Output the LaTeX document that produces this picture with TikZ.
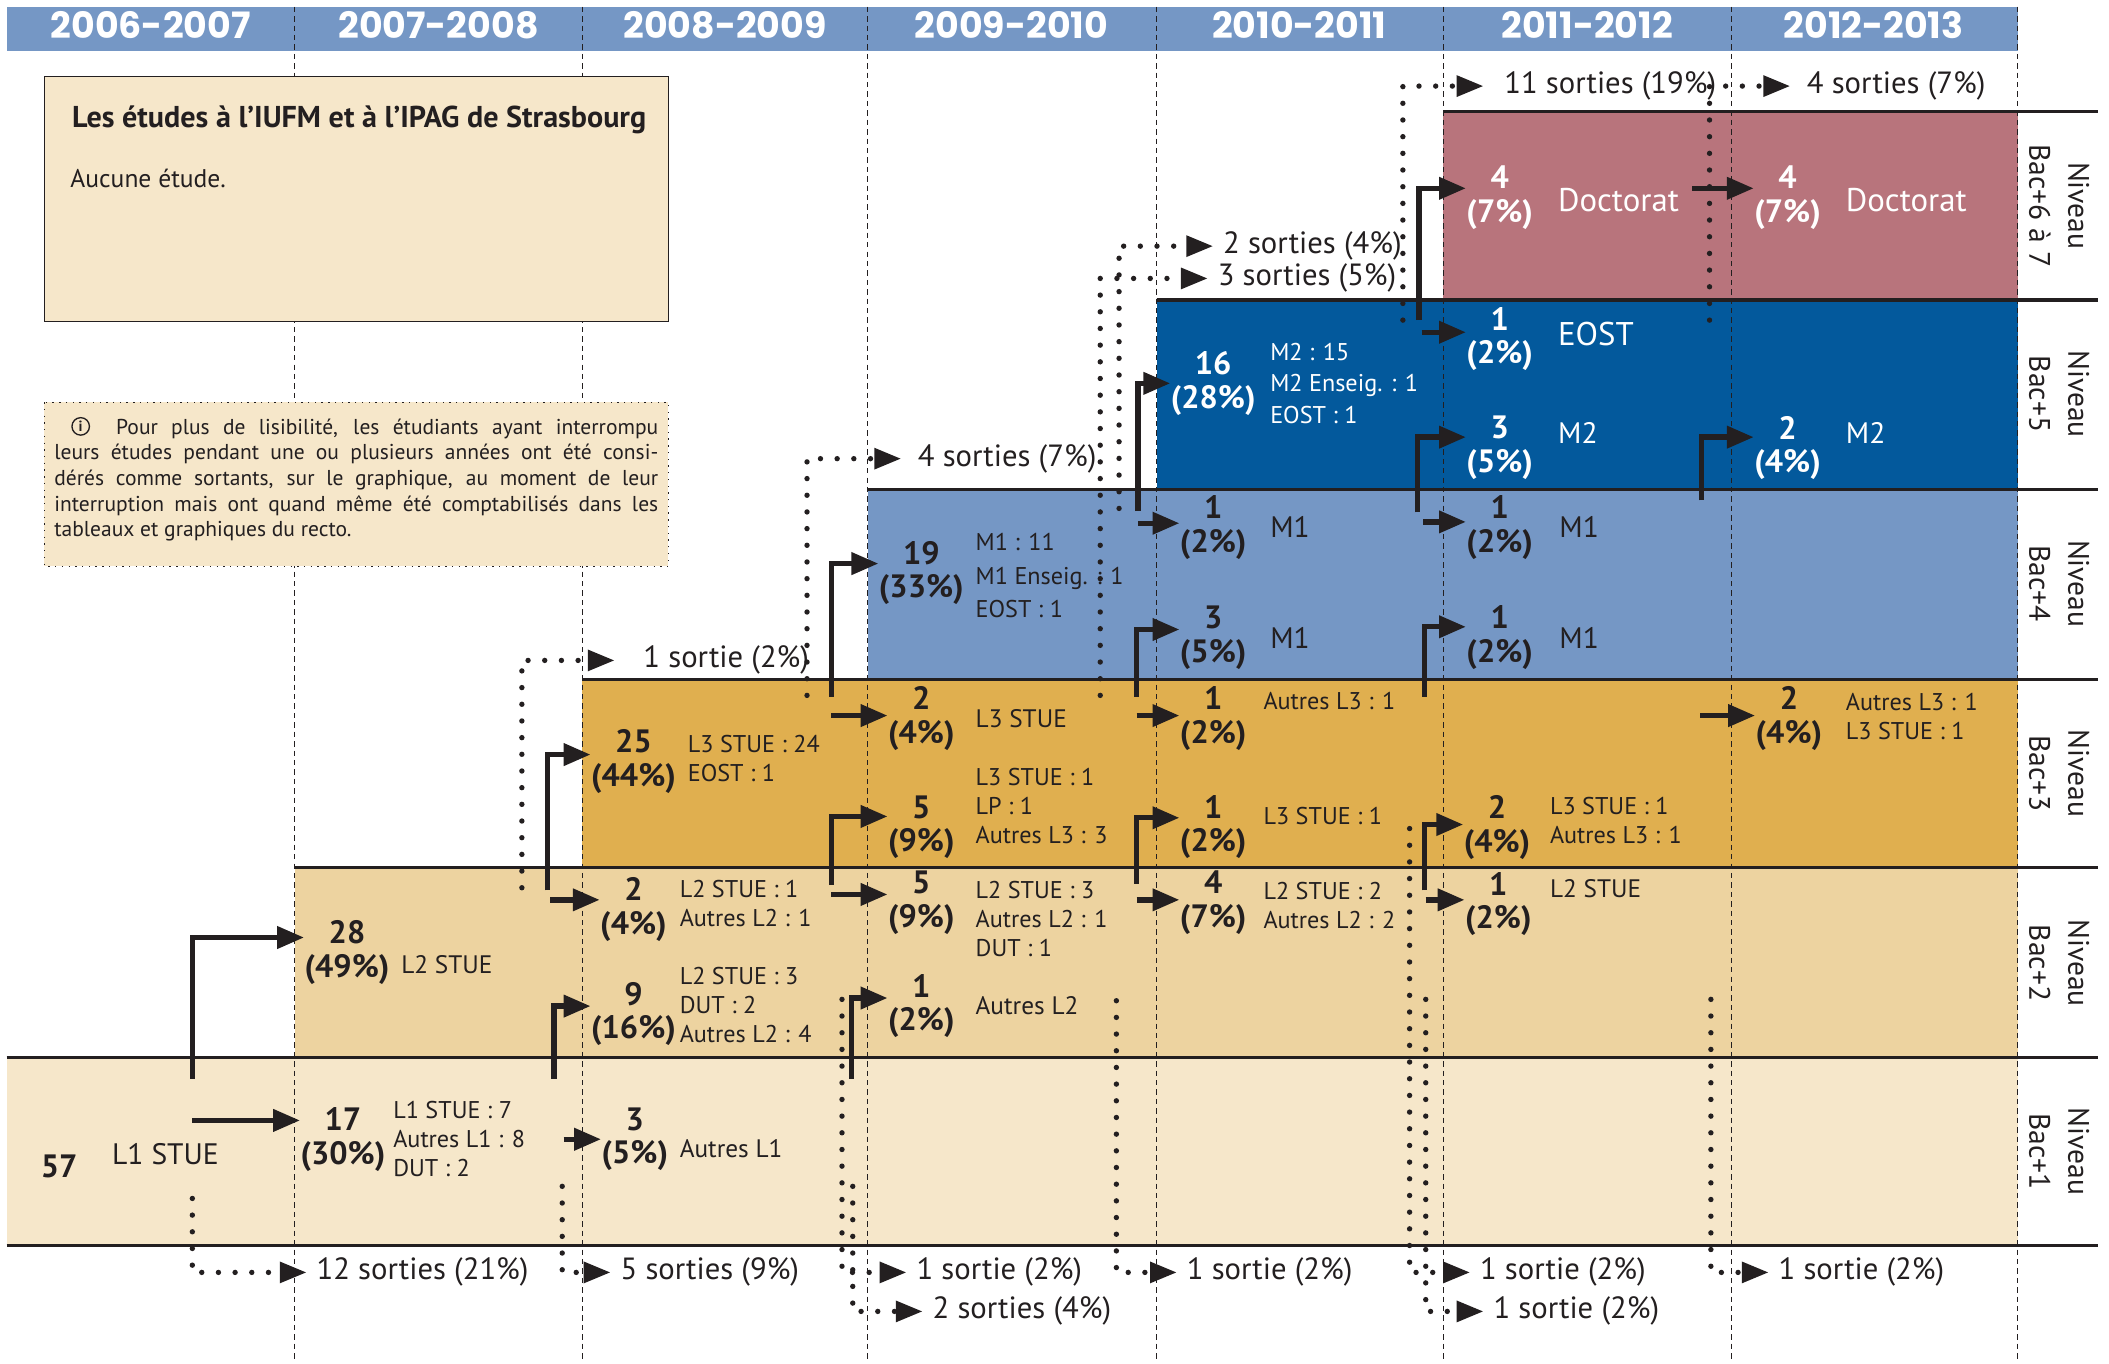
\documentclass[tikz,border=0pt]{standalone}
\usepackage{fontspec}
\setmainfont{PT Sans}
\newfontfamily\anneefont{Poppins}
\usetikzlibrary{arrows.meta}
\definecolor{encre}{RGB}{35,31,32}
\definecolor{bandeau}{RGB}{117,151,197}
\definecolor{bacun}{RGB}{246,231,202}
\definecolor{bacdeux}{RGB}{237,211,160}
\definecolor{bactrois}{RGB}{224,175,79}
\definecolor{bacquatre}{RGB}{117,151,197}
\definecolor{baccinq}{RGB}{3,89,156}
\definecolor{bacsix}{RGB}{184,116,124}
\tikzstyle{palier} = [draw=encre, line width=1.2pt]
\tikzstyle{annuel} = [draw=encre, line width=0.4pt, dash pattern=on 2pt off 1.5pt]
\tikzstyle{flux} = [draw=encre, line width=2pt, -{Triangle[length=10pt,width=8pt]}]
\tikzstyle{sortant} = [draw=encre, line width=2pt, line cap=round, dash pattern=on 0pt off 6.2pt, -{Triangle[length=10pt,width=7.5pt]}]
\tikzstyle{effectif} = [font=\bfseries\fontsize{12}{12.5}\selectfont, align=center, inner sep=0pt, text=encre]
\tikzstyle{filiere} = [font=\fontsize{9.4}{12}\selectfont, anchor=west, inner sep=0pt, text=encre]
\tikzstyle{diplome} = [font=\fontsize{11}{12}\selectfont, anchor=west, inner sep=0pt, text=encre]
\tikzstyle{detail} = [font=\fontsize{9}{10.75}\selectfont, align=left, anchor=west, inner sep=0pt, text=encre]
\tikzstyle{sortie} = [font=\fontsize{11.4}{12}\selectfont, anchor=west, inner xsep=3.5pt, inner ysep=0pt, text=encre]
\tikzstyle{annee} = [font=\anneefont\bfseries\fontsize{13.5}{14}\selectfont, text=white]
\tikzstyle{niveau} = [font=\fontsize{11}{14.5}\selectfont, align=center, rotate=-90, text=encre]

\begin{document}
\begin{tikzpicture}[x=0.5pt,y=-0.5pt]

	\useasboundingbox (0,0) rectangle (1568,1014);

	\fill[bacun] (5,786) rectangle (1500,926);
	\fill[bacdeux] (219,645) rectangle (1500,786);
	\fill[bactrois] (433,505) rectangle (1500,645);
	\fill[bacquatre] (645,364) rectangle (1500,505);
	\fill[baccinq] (860,223) rectangle (1500,364);
	\fill[bacsix] (1073,83) rectangle (1500,223);
	\fill[bandeau] (5,5) rectangle (1500,38);

	\draw[annuel] (219,5) -- (219,1013);
	\draw[annuel] (433,5) -- (433,1013);
	\draw[annuel] (645,5) -- (645,1013);
	\draw[annuel] (860,5) -- (860,1013);
	\draw[annuel] (1073,5) -- (1073,1013);
	\draw[annuel] (1287,5) -- (1287,1013);
	\draw[annuel] (1500,5) -- (1500,1013);

	\draw[palier] (1073,83) -- (1560,83);
	\draw[palier] (860,223) -- (1560,223);
	\draw[palier] (645,364) -- (1560,364);
	\draw[palier] (433,505) -- (1560,505);
	\draw[palier] (219,645) -- (1560,645);
	\draw[palier] (5,786) -- (1560,786);
	\draw[palier] (5,926) -- (1560,926);

	\node[annee] (an1) at (112,18.5) {2006-2007};
	\node[annee] (an2) at (326,18.5) {2007-2008};
	\node[annee] (an3) at (539,18.5) {2008-2009};
	\node[annee] (an4) at (752,18.5) {2009-2010};
	\node[annee] (an5) at (966,18.5) {2010-2011};
	\node[annee] (an6) at (1180,18.5) {2011-2012};
	\node[annee] (an7) at (1393,18.5) {2012-2013};

	\node[niveau] (niv6) at (1531,153) {Niveau\\Bac+6 à 7};
	\node[niveau] (niv5) at (1531,293) {Niveau\\Bac+5};
	\node[niveau] (niv4) at (1531,434) {Niveau\\Bac+4};
	\node[niveau] (niv3) at (1531,575) {Niveau\\Bac+3};
	\node[niveau] (niv2) at (1531,716) {Niveau\\Bac+2};
	\node[niveau] (niv1) at (1531,856) {Niveau\\Bac+1};

	\draw[encre, line width=0.6pt, fill=bacun] (33,57) rectangle (497,239);
	\node[font=\bfseries\fontsize{11.2}{13}\selectfont, text=encre] (titre) at (267,89) {Les études à l’IUFM et à l’IPAG de Strasbourg};
	\node[filiere, font=\fontsize{9.5}{12}\selectfont] (aucune) at (52,133) {Aucune étude.};
	\draw[encre, line width=0.5pt, dotted, fill=bacun] (33,299) rectangle (497,421);
	\node[anchor=north west, text width=224.5pt, align=justify, inner sep=0pt, text=encre, font=\fontsize{8}{9.5}\selectfont] (lecture) at (40,311)
		{\hspace*{23pt}Pour plus de lisibilité, les étudiants ayant interrompu\linebreak leurs études pendant une ou plusieurs années ont été consi-\linebreak dérés comme sortants, sur le graphique, au moment de leur\linebreak interruption mais ont quand même été comptabilisés dans les\linebreak tableaux et graphiques du recto.};
	\node[circle, draw=encre, line width=0.5pt, minimum size=6.5pt, inner sep=0pt, text=encre, font=\bfseries\fontsize{5.5}{6}\selectfont] (info) at (60,317) {i};

	\node[effectif] (n57) at (44,867) {57};
	\node[diplome] (f57) at (83,858) {L1 STUE};

	\node[effectif] (n28) at (258,708) {28\\(49\%)};
	\node[filiere] (f28) at (298,717) {L2 STUE};
	\node[effectif] (n17) at (255,847) {17\\(30\%)};
	\node[detail] (f17) at (292,847) {L1 STUE : 7\\Autres L1 : 8\\DUT : 2};

	\node[effectif] (n25) at (471,566) {25\\(44\%)};
	\node[detail] (f25) at (511,564) {L3 STUE : 24\\EOST : 1};
	\node[effectif] (n2c3) at (471,676) {2\\(4\%)};
	\node[detail] (f2c3) at (505,672) {L2 STUE : 1\\Autres L2 : 1};
	\node[effectif] (n9) at (471,754) {9\\(16\%)};
	\node[detail] (f9) at (505,747) {L2 STUE : 3\\DUT : 2\\Autres L2 : 4};
	\node[effectif] (n3c3) at (472,847) {3\\(5\%)};
	\node[filiere] (f3c3) at (505,854) {Autres L1};

	\node[effectif] (n19) at (685,426) {19\\(33\%)};
	\node[detail, font=\fontsize{9}{12.5}\selectfont] (f19) at (725,428) {M1 : 11\\M1 Enseig. : 1\\EOST : 1};
	\node[effectif] (n2c4) at (685,534) {2\\(4\%)};
	\node[filiere] (f2c4) at (725,534) {L3 STUE};
	\node[effectif] (n5a) at (685,615) {5\\(9\%)};
	\node[detail] (f5a) at (725,599) {L3 STUE : 1\\LP : 1\\Autres L3 : 3};
	\node[effectif] (n5b) at (685,671) {5\\(9\%)};
	\node[detail] (f5b) at (725,683) {L2 STUE : 3\\Autres L2 : 1\\DUT : 1};
	\node[effectif] (n1c4) at (685,748) {1\\(2\%)};
	\node[filiere] (f1c4) at (725,748) {Autres L2};

	\node[effectif, text=white] (n16) at (902,285) {16\\(28\%)};
	\node[detail, text=white, font=\fontsize{9}{11.75}\selectfont] (f16) at (944,285) {M2 : 15\\M2 Enseig. : 1\\EOST : 1};
	\node[effectif] (n1m1) at (902,392) {1\\(2\%)};
	\node[diplome] (f1m1) at (944,392) {M1};
	\node[effectif] (n3m1) at (902,474) {3\\(5\%)};
	\node[diplome] (f3m1) at (944,474) {M1};
	\node[effectif] (n1l3a) at (902,534) {1\\(2\%)};
	\node[detail] (f1l3a) at (939,521) {Autres L3 : 1};
	\node[effectif] (n1l3b) at (902,615) {1\\(2\%)};
	\node[detail] (f1l3b) at (939,607) {L3 STUE : 1};
	\node[effectif] (n4c5) at (902,671) {4\\(7\%)};
	\node[detail] (f4c5) at (939,673) {L2 STUE : 2\\Autres L2 : 2};

	\node[effectif, text=white] (n4d) at (1115,147) {4\\(7\%)};
	\node[diplome, text=white, font=\fontsize{12.2}{13}\selectfont] (f4d) at (1158,149) {Doctorat};
	\node[effectif, text=white] (n1eost) at (1115,252) {1\\(2\%)};
	\node[diplome, text=white, font=\fontsize{12.2}{13}\selectfont] (f1eost) at (1158,248) {EOST};
	\node[effectif, text=white] (n3m2) at (1115,333) {3\\(5\%)};
	\node[diplome, text=white] (f3m2) at (1158,322) {M2};
	\node[effectif] (n1m1a) at (1115,392) {1\\(2\%)};
	\node[diplome] (f1m1a) at (1159,392) {M1};
	\node[effectif] (n1m1b) at (1115,474) {1\\(2\%)};
	\node[diplome] (f1m1b) at (1159,474) {M1};
	\node[effectif] (n2l3) at (1113,615) {2\\(4\%)};
	\node[detail] (f2l3) at (1152,610) {L3 STUE : 1\\Autres L3 : 1};
	\node[effectif] (n1l2) at (1114,672) {1\\(2\%)};
	\node[filiere] (f1l2) at (1152,661) {L2 STUE};

	\node[effectif, text=white] (n4d7) at (1329,147) {4\\(7\%)};
	\node[diplome, text=white, font=\fontsize{12.2}{13}\selectfont] (f4d7) at (1372,149) {Doctorat};
	\node[effectif, text=white] (n2m2) at (1329,333) {2\\(4\%)};
	\node[diplome, text=white] (f2m2) at (1372,322) {M2};
	\node[effectif] (n2l37) at (1330,534) {2\\(4\%)};
	\node[detail] (f2l37) at (1372,533) {Autres L3 : 1\\L3 STUE : 1};

	\coordinate (o57h) at (143,802);
	\coordinate (o57d) at (143,833);
	\coordinate (o28h) at (407,662);
	\coordinate (o28d) at (409,669);
	\coordinate (o17h) at (412,802);
	\coordinate (o17d) at (419,847);
	\coordinate (o25h) at (618,518);
	\coordinate (o25d) at (618,532);
	\coordinate (o2h) at (618,658);
	\coordinate (o2d) at (618,665);
	\coordinate (o9h) at (633,802);
	\coordinate (o19h) at (846,380);
	\coordinate (o19d) at (846,389);
	\coordinate (o2bh) at (845,518);
	\coordinate (o2bd) at (845,532);
	\coordinate (o5h) at (845,657);
	\coordinate (o5d) at (845,669);
	\coordinate (o16h) at (1055,238);
	\coordinate (o16d) at (1057,247);
	\coordinate (o1h) at (1054,381);
	\coordinate (o1d) at (1058,388);
	\coordinate (o1bh) at (1059,518);
	\coordinate (o4h) at (1059,662);
	\coordinate (o4d) at (1060,669);
	\coordinate (o4dd) at (1258,140);
	\coordinate (o1ch) at (1265,372);
	\coordinate (o1cd) at (1264,532);

	\draw[flux] (o57h) |- ([yshift=5.5pt]n28.west);
	\draw[flux] (o57d) -- (o57d -| n17.west);
	\draw[flux] (o28h) |- ([yshift=2.5pt]n25.west);
	\draw[flux] (o28d) -- (o28d -| n2c3.west);
	\draw[flux] (o17h) |- ([yshift=3pt]n9.west);
	\draw[flux] (o17d) -- (o17d -| n3c3.west);
	\draw[flux] (o25h) |- ([yshift=3.5pt]n19.west);
	\draw[flux] (o25d) -- (o25d -| n2c4.west);
	\draw[flux] (o2h) |- ([yshift=4pt]n5a.west);
	\draw[flux] (o2d) -- (o2d -| n5b.west);
	\draw[flux] (o9h) |- ([yshift=3pt]n1c4.west);
	\draw[flux] (o19h) |- (n16.west);
	\draw[flux] (o19d) -- (o19d -| n1m1.west);
	\draw[flux] (o2bh) |- ([yshift=3pt]n3m1.west);
	\draw[flux] (o2bd) -- (o2bd -| n1l3a.west);
	\draw[flux] (o5h) |- ([yshift=3.5pt]n1l3b.west);
	\draw[flux] (o5d) -- (o5d -| n4c5.west);
	\draw[flux] (o16h) |- ([yshift=3.5pt]n4d.west);
	\draw[flux] (o16d) -- (o16d -| n1eost.west);
	\draw[flux] (o1h) |- ([yshift=4pt]n3m2.west);
	\draw[flux] (o1d) -- (o1d -| n1m1a.west);
	\draw[flux] (o1bh) |- ([yshift=4pt]n1m1b.west);
	\draw[flux] (o4h) |- ([yshift=1pt]n2l3.west);
	\draw[flux] (o4d) -- (o4d -| n1l2.west);
	\draw[flux] (o4dd) -- (o4dd -| n4d7.west);
	\draw[flux] (o1ch) |- ([yshift=4pt]n2m2.west);
	\draw[flux] (o1cd) -- (o1cd -| n2l37.west);

	\node[sortie] (s57) at (228,946) {12 sorties (21\%)};
	\node[sortie] (s17) at (454,946) {5 sorties (9\%)};
	\node[sortie, inner xsep=10.5pt] (s28) at (457,491) {1 sortie (2\%)};
	\node[sortie, inner xsep=6pt] (s25) at (670,341) {4 sorties (7\%)};
	\node[sortie] (s9) at (674,946) {1 sortie (2\%)};
	\node[sortie] (s3) at (686,975) {2 sorties (4\%)};
	\node[sortie] (s19) at (902,183) {2 sorties (4\%)};
	\node[sortie] (s2) at (898,207) {3 sorties (5\%)};
	\node[sortie] (s1c4) at (875,946) {1 sortie (2\%)};
	\node[sortie, inner xsep=7.5pt] (s16) at (1103,64) {11 sorties (19\%)};
	\node[sortie] (s1l3) at (1093,946) {1 sortie (2\%)};
	\node[sortie] (s4c5) at (1103,975) {1 sortie (2\%)};
	\node[sortie, inner xsep=6pt] (s1eost) at (1331,64) {4 sorties (7\%)};
	\node[sortie] (s1l2) at (1315,946) {1 sortie (2\%)};

	\coordinate (d57) at (143,891);
	\coordinate (d17) at (418,882);
	\coordinate (d28) at (388,660);
	\coordinate (d25) at (600,517);
	\coordinate (d9) at (626,743);
	\coordinate (d3) at (634,882);
	\coordinate (d19) at (832,378);
	\coordinate (d2) at (818,517);
	\coordinate (d1c4) at (830,744);
	\coordinate (d16) at (1043,238);
	\coordinate (d1l3) at (1048,616);
	\coordinate (d4c5) at (1060,743);
	\coordinate (d1eost) at (1271,238);
	\coordinate (d1l2) at (1272,743);

	\draw[sortant] (d57) |- (s57.west);
	\draw[sortant] (d17) |- (s17.west);
	\draw[sortant] (d28) |- (s28.west);
	\draw[sortant] (d25) |- (s25.west);
	\draw[sortant] (d9) |- (s9.west);
	\draw[sortant] (d3) |- (s3.west);
	\draw[sortant] (d19) |- (s19.west);
	\draw[sortant] (d2) |- (s2.west);
	\draw[sortant] (d1c4) |- (s1c4.west);
	\draw[sortant] (d16) |- (s16.west);
	\draw[sortant] (d1l3) |- (s1l3.west);
	\draw[sortant] (d4c5) |- (s4c5.west);
	\draw[sortant] (d1eost) |- (s1eost.west);
	\draw[sortant] (d1l2) |- (s1l2.west);

\end{tikzpicture}
\end{document}
